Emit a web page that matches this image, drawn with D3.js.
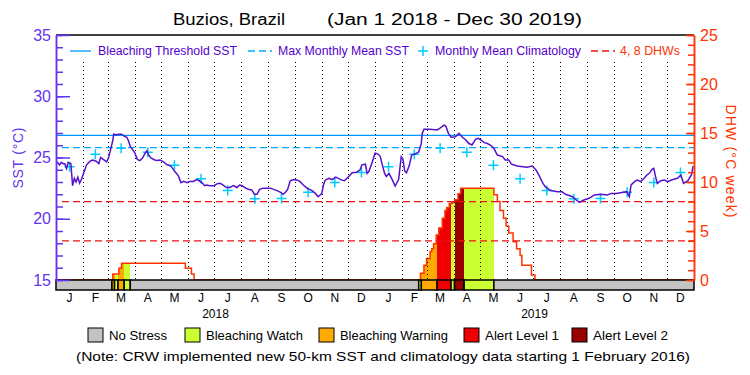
<!DOCTYPE html>
<html>
<head>
<meta charset="utf-8">
<script src="https://cdn.jsdelivr.net/npm/d3@7"></script>
<style>
  body { margin: 0; background: #fff; }
  text { font-family: "Liberation Sans", Arial, sans-serif; }
</style>
</head>
<body>
<div id="chart"></div>
<script>
// ---- data ----
const months = ["J", "F", "M", "A", "M", "J", "J", "A", "S", "O", "N", "D"];
const years = ["2018", "2019"];
const sstTicks = [15, 20, 25, 30, 35];
const dhwTicks = [0, 5, 10, 15, 20, 25];
const mmmSst = 25.8;
const thresholdSst = 26.8;
const dhwLevels = [4, 8];
// monthly mean climatology, Jan..Dec
const climatology = [24.25, 25.26, 25.75, 25.42, 24.36, 23.27, 22.3, 21.64, 21.66, 22.17, 22.95, 23.77];

// daily SST, sampled (days since Jan 1 2018)
const sstDay = [0, 2, 4, 6, 8, 10, 12, 14, 17, 19, 21, 23, 25, 27, 29, 31, 35, 39, 42, 46, 49, 51, 54, 58, 60, 62,
  65, 66, 69, 72, 75, 78, 81, 83, 85, 88, 90, 93, 96, 99, 102, 104, 106, 109, 113, 116, 119, 123, 127, 130, 132,
  136, 140, 143, 146, 150, 153, 157, 161, 164, 167, 170, 172, 176, 181, 184, 188, 192, 195, 199, 203, 207, 210,
  213, 216, 220, 224, 227, 230, 233, 237, 245, 249, 253, 257, 260, 263, 265, 268, 272, 276, 279, 283, 287, 293,
  297, 300, 304, 306, 308, 312, 316, 320, 323, 327, 330, 335, 339, 344, 348, 350, 354, 356, 358, 362, 365, 368,
  371, 373, 376, 378, 381, 385, 388, 392, 395, 397, 399, 401, 404, 407, 411, 415, 418, 419, 421, 428, 436, 439,
  444, 446, 449, 452, 457, 461, 465, 469, 472, 476, 480, 483, 486, 490, 493, 497, 501, 505, 511, 514, 518, 521,
  524, 528, 534, 539, 545, 549, 553, 557, 560, 566, 574, 579, 583, 587, 591, 595, 599, 604, 610, 616, 623, 631,
  635, 641, 646, 653, 656, 658, 662, 665, 669, 673, 676, 679, 682, 684, 686, 688, 692, 696, 700, 704, 707, 711,
  715, 718, 723, 727, 729];
const sstValue = [24.6, 24.6, 24.4, 24.6, 24.5, 24.5, 24.1, 24.6, 24.5, 22.7, 23.3, 23.0, 23.4, 22.9, 23.2, 23.6,
  24.4, 24.7, 24.8, 24.7, 24.5, 25.0, 24.85, 24.65, 24.95, 25.5,
  26.4, 26.9, 26.85, 26.9, 26.9, 26.75, 26.65, 26.35, 25.9, 25.6, 25.4, 24.85, 24.75, 24.95, 25.35, 25.55, 25.2,
  24.95, 24.8, 24.75, 24.8, 24.65, 24.4, 24.35, 24.25,
  23.85, 23.5, 22.95, 23.05, 22.95, 23.05, 23.05, 23.2, 23.1, 22.95, 22.7, 22.75, 22.7, 22.7, 22.85, 22.9, 22.7,
  22.55, 22.55, 22.7, 22.55, 22.75,
  22.7, 22.55, 22.4, 22.35, 22.0, 22.0, 22.4, 22.5, 22.5, 22.4, 22.3, 22.15, 22.0, 22.2, 22.4, 23.1, 23.2, 23.15,
  23.05, 22.75, 22.5, 22.3,
  22.05, 21.8, 22.05, 22.75, 23.15, 23.3, 23.2, 23.4, 23.3, 23.15, 23.1, 23.45, 23.75, 23.8, 24.0, 24.4, 24.45,
  23.7, 23.85, 24.65, 25.35, 25.3,
  25.1, 24.5, 23.7, 23.45, 23.7, 23.15, 22.67, 23.2, 25.05, 24.85, 23.9, 23.75, 24.3, 25.2, 25.3, 25.45, 26.15,
  26.95, 27.3, 27.3, 27.25, 27.38,
  27.65, 27.57, 26.97, 26.65, 26.7, 26.97, 26.65, 26.43, 26.16, 26.02, 26.48, 26.56, 26.43, 26.21, 26.16, 26.02,
  25.75, 25.2, 25.07, 24.8, 24.8, 24.47,
  24.39, 24.31, 24.25, 24.2, 24.3, 24.0, 23.5, 22.9, 22.6, 22.3, 22.2, 22.2, 22.0, 21.9, 21.8, 21.55, 21.33, 21.53,
  21.67, 21.94, 22.0, 21.94,
  22.07, 22.07, 22.13, 22.21, 21.8, 22.76, 23.03, 23.16, 23.03, 23.3, 23.57, 23.71, 24.03, 24.11, 23.44, 22.89,
  23.11, 23.16, 23.03, 23.16, 23.22, 23.3,
  23.57, 22.89, 23.11, 23.57, 24.31];

// degree heating weeks, step changes (value holds from that day on)
const dhwDay = [0, 65, 72, 75, 148, 155, 158, 417, 421, 424, 428, 430, 432, 435, 438, 442, 445, 447, 450, 453, 456,
  460, 463, 501, 505, 508, 512, 515, 518, 523, 527, 531, 533, 544, 548];
const dhwValue = [0, 0.6, 1.2, 1.7, 1.2, 0.6, 0, 0.7, 1.5, 2.2, 2.9, 3.2, 3.7, 4.6, 5.3, 6.3, 7.1, 7.4, 7.8, 7.9, 8.2,
  8.8, 9.35, 8.7, 8.0, 7.1, 6.3, 5.5, 4.8, 3.9, 3.2, 2.5, 1.5, 0.5, 0];

// stress level, step changes: 0 none, 1 watch, 2 warning, 3 alert 1, 4 alert 2
const stressDay = [0, 64, 67, 71, 78, 85, 415, 418, 436, 452, 456, 467, 501];
const stressLevel = [0, 2, 1, 2, 1, 0, 1, 2, 3, 1, 4, 1, 0];
const stressNames = ["No Stress", "Bleaching Watch", "Bleaching Warning", "Alert Level 1", "Alert Level 2"];
const stressColors = ["#c3c3c3", "#ccff33", "#ffaa00", "#ee0000", "#990000"];

// ---- layout ----
const width = 750, height = 375;
const plotL = 56, plotR = 694, plotT = 35, plotB = 280, barBottom = 290;
const purple = "#6633ee", orange = "#ff3300";
const startDate = new Date(2018, 0, 1), endDate = new Date(2020, 0, 1);
const totalDays = 730;
const day = n => d3.timeDay.offset(startDate, n);

const svg = d3.select("#chart").append("svg")
  .attr("width", width)
  .attr("height", height);

const x = d3.scaleTime().domain([startDate, endDate]).range([plotL, plotR]);
const ySst = d3.scaleLinear().domain([15, 35]).range([plotB, plotT]);
const yDhw = d3.scaleLinear().domain([0, 25]).range([plotB, plotT]);

// DHW fill, coloured by stress
const breaks = Array.from(new Set(dhwDay.concat(stressDay, [totalDays]))).sort((a, b) => a - b);
const stepAt = (days, vals, d) => vals[d3.bisectRight(days, d) - 1];
const fills = [];
for (let i = 0; i < breaks.length - 1; i++) {
  const s = stepAt(stressDay, stressLevel, breaks[i]);
  const v = stepAt(dhwDay, dhwValue, breaks[i]);
  if (s > 0 && v > 0) fills.push({from: breaks[i], to: breaks[i + 1], level: s, value: v});
}
svg.append("g").selectAll("rect")
  .data(fills)
  .join("rect")
  .attr("x", d => x(day(d.from)))
  .attr("width", d => x(day(d.to)) - x(day(d.from)))
  .attr("y", d => yDhw(d.value))
  .attr("height", d => plotB - yDhw(d.value))
  .attr("fill", d => stressColors[d.level])
  .attr("shape-rendering", "crispEdges");

// DHW outline
const dhwPts = dhwDay.map((d, i) => [d, dhwValue[i]]).concat([[totalDays, 0]]);
svg.append("path")
  .datum(dhwPts)
  .attr("fill", "none")
  .attr("stroke", orange)
  .attr("stroke-width", 1.5)
  .attr("d", d3.line().curve(d3.curveStepAfter).x(d => x(day(d[0]))).y(d => yDhw(d[1])));

// month separators
svg.append("g").selectAll("line")
  .data(d3.timeMonth.range(d3.timeMonth.offset(startDate, 1), endDate))
  .join("line")
  .attr("x1", d => Math.round(x(d)) + 0.5)
  .attr("x2", d => Math.round(x(d)) + 0.5)
  .attr("y1", 62)
  .attr("y2", plotB)
  .attr("stroke", "#000")
  .attr("stroke-dasharray", "1,3");

// 4 and 8 DHW lines
svg.append("g").selectAll("line")
  .data(dhwLevels)
  .join("line")
  .attr("x1", plotL + 6).attr("x2", plotR)
  .attr("y1", d => yDhw(d)).attr("y2", d => yDhw(d))
  .attr("stroke", "#ee1111")
  .attr("stroke-width", 1.3)
  .attr("stroke-dasharray", "7,4");

// threshold and MMM
svg.append("line")
  .attr("x1", plotL).attr("x2", plotR)
  .attr("y1", ySst(thresholdSst)).attr("y2", ySst(thresholdSst))
  .attr("stroke", "#0099ff").attr("stroke-width", 1.3);
svg.append("line")
  .attr("x1", plotL + 6).attr("x2", plotR)
  .attr("y1", ySst(mmmSst)).attr("y2", ySst(mmmSst))
  .attr("stroke", "#00aaff").attr("stroke-width", 1.3)
  .attr("stroke-dasharray", "7,4");

// climatology crosses at mid-month
const climPts = [];
for (let y = 0; y < years.length; y++) {
  climatology.forEach((v, m) => {
    const a = new Date(2018 + y, m, 1), b = new Date(2018 + y, m + 1, 1);
    climPts.push({date: new Date((+a + +b) / 2), value: v});
  });
}
svg.append("g").selectAll("path")
  .data(climPts)
  .join("path")
  .attr("transform", d => "translate(" + x(d.date) + "," + ySst(d.value) + ")")
  .attr("d", "M-5,0H5M0,-5V5")
  .attr("stroke", "#00ccff")
  .attr("stroke-width", 1.5);

// SST line
svg.append("path")
  .datum(sstDay.map((d, i) => [d, sstValue[i]]))
  .attr("fill", "none")
  .attr("stroke", "#5511cc")
  .attr("stroke-width", 1.5)
  .attr("d", d3.line().x(d => x(day(d[0]))).y(d => ySst(d[1])));

// stress bar
const segs = stressDay.map((d, i) => ({from: d, to: i < stressDay.length - 1 ? stressDay[i + 1] : totalDays, level: stressLevel[i]}));
svg.append("g").selectAll("rect")
  .data(segs)
  .join("rect")
  .attr("x", d => x(day(d.from)))
  .attr("width", d => x(day(d.to)) - x(day(d.from)))
  .attr("y", plotB)
  .attr("height", barBottom - plotB)
  .attr("fill", d => stressColors[d.level])
  .attr("stroke", "#000")
  .attr("stroke-width", 1.5);

// frame top
svg.append("line")
  .attr("x1", plotL).attr("x2", plotR).attr("y1", plotT).attr("y2", plotT)
  .attr("stroke", "#000").attr("stroke-width", 1.5);

// axes
function styleAxis(g, color, size) {
  g.select(".domain").attr("stroke", color).attr("stroke-width", 1.5);
  g.selectAll(".tick line").attr("stroke", color).attr("stroke-width", 1.5);
  g.selectAll(".tick text").attr("fill", color).style("font-size", size + "px")
    .style("font-family", "'Liberation Sans', Arial, sans-serif");
}
svg.append("g")
  .attr("transform", "translate(" + plotL + ",0)")
  .call(d3.axisLeft(ySst).ticks(20).tickSize(-7).tickSizeOuter(0).tickFormat(""))
  .call(g => styleAxis(g, purple, 15));
svg.append("g")
  .attr("transform", "translate(" + plotL + ",0)")
  .call(d3.axisLeft(ySst).tickValues(sstTicks).tickSize(-14).tickSizeOuter(0).tickPadding(5))
  .call(g => styleAxis(g, purple, 16));

svg.append("g")
  .attr("transform", "translate(" + plotR + ",0)")
  .call(d3.axisRight(yDhw).ticks(25).tickSize(-6).tickSizeOuter(0).tickFormat(""))
  .call(g => styleAxis(g, orange, 15));
svg.append("g")
  .attr("transform", "translate(" + plotR + ",0)")
  .call(d3.axisRight(yDhw).tickValues(dhwTicks).tickSize(-8).tickSizeOuter(0).tickPadding(6))
  .call(g => styleAxis(g, orange, 16));

// month and year labels
const monthStarts = d3.timeMonth.range(startDate, endDate);
svg.append("g").selectAll("text")
  .data(monthStarts)
  .join("text")
  .attr("x", d => x(new Date((+d + +d3.timeMonth.offset(d, 1)) / 2)))
  .attr("y", 298)
  .attr("text-anchor", "middle")
  .attr("dominant-baseline", "central")
  .style("font-size", "12px")
  .text(d => months[d.getMonth()]);
svg.append("g").selectAll("text")
  .data(years)
  .join("text")
  .attr("x", (d, i) => x(new Date((+new Date(2018 + i, 0, 1) + +new Date(2019 + i, 0, 1)) / 2)))
  .attr("y", 314)
  .attr("text-anchor", "middle")
  .attr("dominant-baseline", "central")
  .style("font-size", "12px")
  .text(d => d);

// axis titles
svg.append("text")
  .attr("transform", "translate(18,158) rotate(-90)")
  .attr("text-anchor", "middle")
  .attr("dominant-baseline", "central")
  .attr("fill", purple)
  .attr("textLength", 61)
  .style("font-size", "14px")
  .text("SST (°C)");
svg.append("text")
  .attr("transform", "translate(731,161) rotate(90)")
  .attr("text-anchor", "middle")
  .attr("dominant-baseline", "central")
  .attr("fill", orange)
  .attr("textLength", 113)
  .style("font-size", "14px")
  .text("DHW (°C week)");

// title
const title = [
  {x: 173, w: 112, t: "Buzios, Brazil"},
  {x: 327, w: 255, t: "(Jan 1 2018 - Dec 30 2019)"}
];
svg.append("g").selectAll("text")
  .data(title)
  .join("text")
  .attr("x", d => d.x)
  .attr("y", 19)
  .attr("dominant-baseline", "central")
  .attr("textLength", d => d.w)
  .attr("lengthAdjust", "spacingAndGlyphs")
  .style("font-size", "16px")
  .text(d => d.t);

// top legend
const ly = 51;
const lg = svg.append("g");
lg.append("line").attr("x1", 70).attr("x2", 91).attr("y1", ly).attr("y2", ly)
  .attr("stroke", "#0099ff").attr("stroke-width", 1.3);
lg.append("line").attr("x1", 248).attr("x2", 272).attr("y1", ly).attr("y2", ly)
  .attr("stroke", "#00aaff").attr("stroke-width", 1.3).attr("stroke-dasharray", "7,4");
lg.append("path").attr("transform", "translate(423," + ly + ")").attr("d", "M-5,0H5M0,-5V5")
  .attr("stroke", "#00ccff").attr("stroke-width", 1.5);
lg.append("line").attr("x1", 591).attr("x2", 615).attr("y1", ly).attr("y2", ly)
  .attr("stroke", "#ee1111").attr("stroke-width", 1.3).attr("stroke-dasharray", "7,4");
const legendTexts = [
  {x: 98, w: 139, t: "Bleaching Threshold SST", c: "#5500cc"},
  {x: 278, w: 131, t: "Max Monthly Mean SST", c: "#5500cc"},
  {x: 435, w: 146, t: "Monthly Mean Climatology", c: "#5500cc"},
  {x: 620, w: 60, t: "4, 8 DHWs", c: orange}
];
lg.selectAll("text")
  .data(legendTexts)
  .join("text")
  .attr("x", d => d.x)
  .attr("y", ly)
  .attr("dominant-baseline", "central")
  .attr("fill", d => d.c)
  .attr("textLength", d => d.w)
  .attr("lengthAdjust", "spacingAndGlyphs")
  .style("font-size", "12px")
  .text(d => d.t);

// stress legend
const sx = [88, 185, 319, 464, 572];
const sw = [58, 97, 108, 74, 75];
const sg = svg.append("g").selectAll("g")
  .data(stressNames)
  .join("g")
  .attr("transform", (d, i) => "translate(" + sx[i] + ",328)");
sg.append("rect")
  .attr("width", 15).attr("height", 14)
  .attr("fill", (d, i) => stressColors[i])
  .attr("stroke", "#000").attr("stroke-width", 1);
sg.append("text")
  .attr("x", 21).attr("y", 7.5)
  .attr("dominant-baseline", "central")
  .attr("textLength", (d, i) => sw[i])
  .attr("lengthAdjust", "spacingAndGlyphs")
  .style("font-size", "13px")
  .text(d => d);

svg.append("text")
  .attr("x", 76).attr("y", 356)
  .attr("dominant-baseline", "central")
  .attr("textLength", 614)
  .attr("lengthAdjust", "spacingAndGlyphs")
  .style("font-size", "13px")
  .text("(Note: CRW implemented new 50-km SST and climatology data starting 1 February 2016)");
</script>
</body>
</html>
